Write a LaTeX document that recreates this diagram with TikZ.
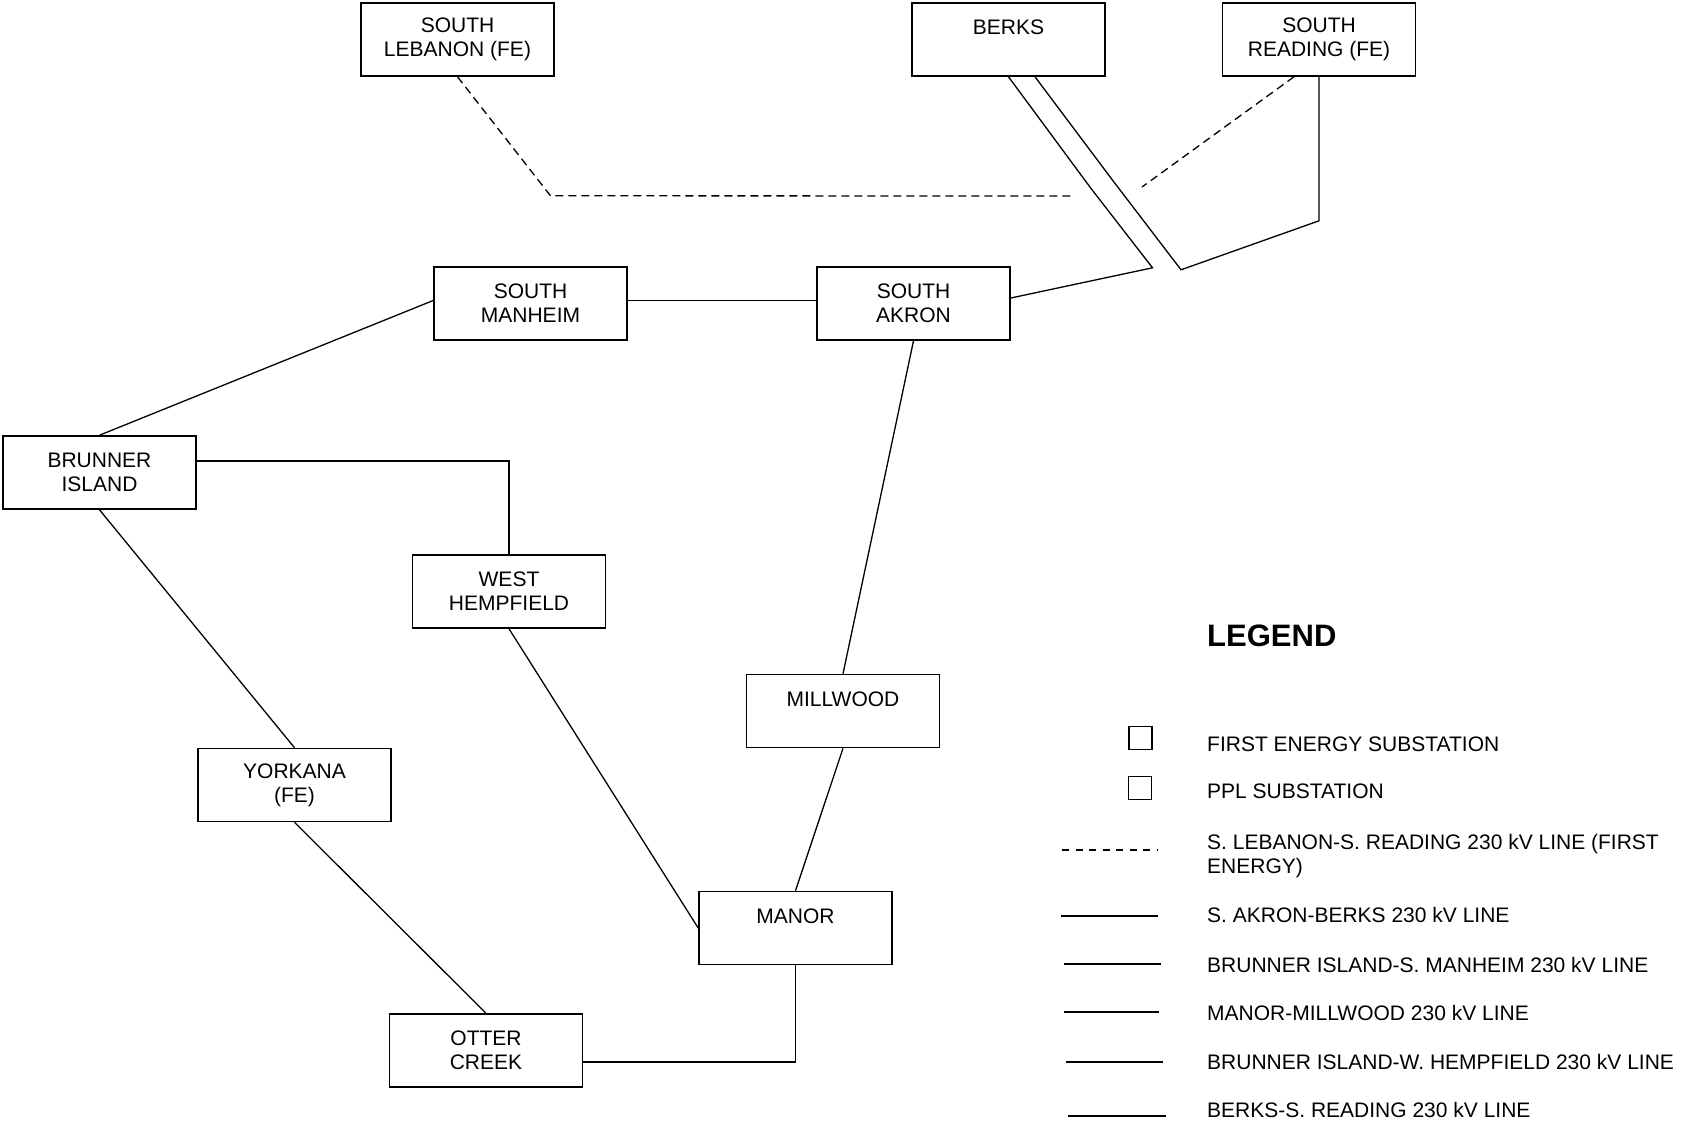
\documentclass[tikz,border=0pt]{standalone}
\usepackage{fontspec}
\setmainfont{Liberation Sans}
\usetikzlibrary{calc}

\begin{document}
\begin{tikzpicture}[x=1pt, y=-1pt,
  every node/.style={font=\fontsize{21}{24}\selectfont},
  station/.style={draw, line width=1.6pt, minimum width=193pt, minimum height=73pt, inner sep=0pt, align=center},
  kvline/.style={line width=1.3pt},
  feline/.style={line width=1.3pt, dash pattern=on 8pt off 5pt},
  legtext/.style={anchor=base west, inner sep=0pt}]
\useasboundingbox (0,0) rectangle (1681,1129);

% substations

\node[station] (SLEB) at (457.5,39.5) {SOUTH\\LEBANON (FE)};
\node[station] (BERK) at (1008.5,39.5) {BERKS\\\mbox{}};
\node[station] (SREA) at (1319,39.5) {SOUTH\\READING (FE)};

\node[station] (SMAN) at (530.5,303.5) {SOUTH\\MANHEIM};
\node[station] (SAKR) at (913.5,303.5) {SOUTH\\AKRON};

\node[station] (BRUN) at (99.5,472.5) {BRUNNER\\ISLAND};
\node[station] (WHEM) at (509,591.5) {WEST\\HEMPFIELD};
\node[station] (MILL) at (843,711) {MILLWOOD\\\mbox{}};
\node[station] (YORK) at (294.5,785) {YORKANA\\(FE)};
\node[station] (MANR) at (795.5,928) {MANOR\\\mbox{}};
\node[station] (OTTR) at (486,1050.5) {OTTER\\CREEK};

% first energy line (dashed, broken at the berks lines)

\coordinate (DW) at (1075,196);
\coordinate (DE) at (1142,187);
\draw[feline] (SLEB.south) -- ++(93,119) -- (DW);
\draw[feline] ([xshift=-25pt]SREA.south) -- (DE);

% berks lines

\draw[kvline] (BERK.south) -- ++(82,111) -- ++(62,80) -- ([yshift=5.5pt]SAKR.east);
\draw[kvline] ([xshift=26.5pt]BERK.south) -- ++(78,104) -- ++(68,89) -- ++(138,-49) -- (SREA.south);

% ppl lines

\draw[kvline] ([yshift=3pt]SMAN.east) -- ([yshift=3pt]SAKR.west);
\draw[kvline] (BRUN.north) -- ([yshift=3pt]SMAN.west);
\draw[kvline] (SAKR.south) -- (MILL.north);
\draw[kvline] (MILL.south) -- (MANR.north);
\draw[kvline] (MANR.south) |- ([yshift=-11.5pt]OTTR.east);
\draw[kvline] (WHEM.south) -- (MANR.west);
\draw[kvline] ([yshift=11.5pt]BRUN.east) -| (WHEM.north);
\draw[kvline] (BRUN.south) -- (YORK.north);
\draw[kvline] (YORK.south) -- (OTTR.north);

% legend

\node[anchor=west, inner sep=0pt, font=\bfseries\fontsize{31}{36}\selectfont] (LEG) at (1207,636) {LEGEND};

\node[draw, line width=1.5pt, minimum width=23pt, minimum height=23pt, inner sep=0pt] (FESQ) at (1140.5,738) {};
\node[draw, line width=1.5pt, minimum width=23pt, minimum height=23pt, inner sep=0pt] (PPSQ) at (1140,788) {};
\node[legtext] (FETX) at (1207,751.5) {FIRST ENERGY SUBSTATION};
\node[legtext] (PPTX) at (1207,798.5) {PPL SUBSTATION};

\node[anchor=west, inner sep=0pt, align=left] (L1) at (1207,856) {S. LEBANON-S. READING 230 kV LINE (FIRST\\ENERGY)};
\node[legtext] (L2) at (1207,922.5) {S. AKRON-BERKS 230 kV LINE};
\node[legtext] (L3) at (1207,972.5) {BRUNNER ISLAND-S. MANHEIM 230 kV LINE};
\node[legtext] (L4) at (1207,1020.5) {MANOR-MILLWOOD 230 kV LINE};
\node[legtext] (L5) at (1207,1069.5) {BRUNNER ISLAND-W. HEMPFIELD 230 kV LINE};
\node[legtext] (L6) at (1207,1117.5) {BERKS-S. READING 230 kV LINE};

\draw[line width=1.3pt, dash pattern=on 7pt off 6.5pt] (1062,850) -- ++(96,0);
\draw[kvline] (1061,916) -- ++(97,0);
\draw[kvline] (1064,964) -- ++(97,0);
\draw[kvline] (1064,1012) -- ++(95,0);
\draw[kvline] (1066,1062) -- ++(97,0);
\draw[kvline] (1068,1116) -- ++(98,0);

\end{tikzpicture}
\end{document}
